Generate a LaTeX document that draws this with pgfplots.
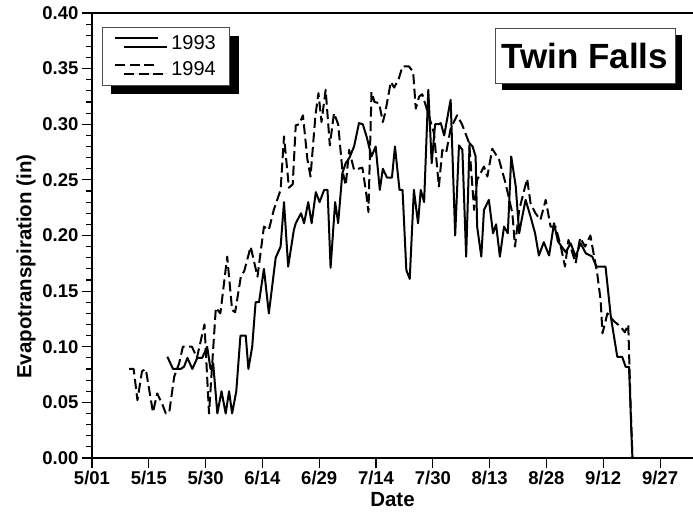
\documentclass[border=0pt]{standalone}
\usepackage{fontspec}
\setmainfont{Liberation Sans}
\usepackage{pgfplots}
\usepackage{pgfplotstable}
\pgfplotsset{compat=1.18}
\usetikzlibrary{shadows}

\pgfplotstableread{
d v
9.8 0.080
11.0 0.080
12.0 0.052
13.2 0.078
14.2 0.080
16.1 0.041
17.2 0.058
18.5 0.049
19.5 0.040
20.4 0.041
21.7 0.073
23.0 0.085
24.0 0.100
26.4 0.100
27.7 0.090
29.7 0.120
30.9 0.040
32.7 0.135
33.9 0.130
35.7 0.181
37.0 0.133
37.8 0.131
39.3 0.163
40.2 0.168
41.9 0.190
43.7 0.163
45.4 0.208
46.7 0.205
48.0 0.223
49.8 0.241
50.7 0.289
52.0 0.243
53.0 0.246
53.8 0.299
54.7 0.300
55.7 0.308
56.9 0.268
57.7 0.253
59.0 0.308
59.8 0.328
60.6 0.302
61.7 0.331
62.8 0.281
63.9 0.310
65.0 0.300
66.1 0.259
67.0 0.245
67.9 0.277
69.2 0.259
71.4 0.261
72.4 0.238
73.0 0.221
73.8 0.329
74.6 0.320
75.8 0.319
76.8 0.302
77.4 0.310
78.9 0.338
79.8 0.333
81.0 0.341
82.0 0.352
83.7 0.352
84.8 0.347
85.5 0.314
86.4 0.325
87.2 0.327
88.2 0.316
89.0 0.307
90.3 0.292
91.6 0.244
92.5 0.277
93.5 0.274
94.7 0.296
96.4 0.308
97.7 0.300
99.6 0.283
100.9 0.223
101.7 0.250
103.5 0.262
104.4 0.253
105.7 0.278
107.5 0.268
109.2 0.247
111.0 0.220
111.7 0.190
112.8 0.223
114.9 0.251
115.8 0.229
117.1 0.220
118.4 0.214
119.8 0.232
121.1 0.208
122.4 0.208
123.8 0.190
124.9 0.172
125.8 0.196
126.8 0.185
127.7 0.175
128.9 0.198
130.2 0.190
131.6 0.200
132.6 0.181
133.4 0.166
134.3 0.142
134.8 0.112
136.1 0.130
137.8 0.123
139.6 0.118
140.7 0.113
141.6 0.120
142.2 0.050
142.7 0.000
}\tblB

\pgfplotstableread{
d v
19.9 0.091
21.4 0.080
23.4 0.080
24.3 0.082
25.2 0.090
26.5 0.080
27.8 0.090
29.1 0.090
30.4 0.100
31.3 0.080
32.0 0.085
33.1 0.040
34.2 0.060
35.3 0.040
36.2 0.060
37.0 0.040
38.1 0.060
39.2 0.110
40.6 0.110
41.3 0.080
42.3 0.100
43.2 0.140
44.1 0.140
45.4 0.170
46.7 0.130
48.5 0.180
49.8 0.190
50.7 0.230
51.8 0.172
53.3 0.205
53.8 0.211
55.2 0.220
56.0 0.211
57.1 0.230
58.0 0.211
59.1 0.239
60.1 0.230
61.3 0.241
62.2 0.241
63.0 0.171
64.2 0.230
65.0 0.211
66.1 0.256
67.0 0.265
68.0 0.270
69.2 0.280
70.5 0.301
71.5 0.300
72.5 0.289
73.8 0.271
74.9 0.280
76.0 0.241
76.8 0.260
77.9 0.252
79.2 0.252
80.0 0.280
81.2 0.241
82.0 0.241
83.0 0.169
83.9 0.161
85.0 0.241
86.1 0.211
86.8 0.241
87.7 0.230
88.8 0.331
89.7 0.265
90.6 0.300
91.5 0.300
92.1 0.301
93.0 0.290
94.7 0.322
95.9 0.200
96.9 0.281
97.8 0.277
98.8 0.181
99.7 0.283
100.5 0.280
101.3 0.271
101.7 0.208
102.8 0.181
103.5 0.223
104.8 0.232
105.9 0.202
106.7 0.210
107.7 0.181
108.8 0.208
109.8 0.202
110.7 0.271
111.9 0.244
112.8 0.202
113.5 0.215
114.5 0.232
115.8 0.217
117.0 0.202
118.0 0.182
119.3 0.194
120.7 0.182
122.0 0.211
123.0 0.195
124.0 0.190
125.1 0.185
126.4 0.193
127.7 0.181
129.0 0.193
130.4 0.184
132.1 0.181
133.2 0.172
135.6 0.172
137.0 0.127
138.7 0.091
140.0 0.091
140.9 0.082
141.8 0.082
142.7 0.000
}\tblA

\begin{document}
\begin{tikzpicture}
\useasboundingbox (-92pt,-60pt) rectangle (601pt,458pt);
\begin{axis}[
  at={(0pt,0pt)}, anchor=south west,
  scale only axis, width=601pt, height=445pt,
  xmin=0, xmax=158.7, ymin=0, ymax=0.40,
  axis x line*=bottom, axis y line*=left,
  axis line style={line width=1.3pt},
  tick align=outside,
  major tick length=10pt, minor tick length=6pt,
  every tick/.style={black, line width=1.1pt},
  xtick={0,15,30,45,60,75,90,105,120,135,150},
  xticklabels={5/01,5/15,5/30,6/14,6/29,7/14,7/30,8/13,8/28,9/12,9/27},
  ytick={0,0.05,0.10,0.15,0.20,0.25,0.30,0.35,0.40},
  minor y tick num=4,
  /pgf/number format/assume math mode=true,
  y tick label style={/pgf/number format/.cd, fixed, fixed zerofill, precision=2},
  tick label style={font=\fontsize{18.5}{20}\selectfont\bfseries},
  xlabel={Date}, ylabel={Evapotranspiration (in)},
  label style={font=\fontsize{20.5}{22}\selectfont\bfseries},
  ylabel style={at={(ticklabel cs:0.43)}},
  legend style={at={(axis description cs:0.0166,0.9685)}, anchor=north west,
    draw=black!70, line width=0.6pt, fill=white,
    drop shadow={shadow xshift=9pt, shadow yshift=-9pt, fill=black, opacity=1},
    font=\fontsize{20}{22}\selectfont, legend cell align=left,
    inner xsep=12pt, inner ysep=6pt, row sep=7pt,
    /tikz/every odd column/.append style={column sep=10pt}},
  legend image code/.code={\draw[#1] (0pt,5pt) -- (43pt,5pt);},
]
\addplot[black, line width=2pt, line join=round] table[x=d,y=v] {\tblA};
\addlegendentry{1993}
\addplot[black, line width=2pt, line join=round, dash pattern=on 10pt off 4.5pt] table[x=d,y=v] {\tblB};
\addlegendentry{1994}
\draw[line width=1.3pt] (rel axis cs:0,1) -- (rel axis cs:1,1);
\node[draw=black!70, line width=0.6pt, fill=white,
  drop shadow={shadow xshift=7pt, shadow yshift=-7pt, fill=black, opacity=1},
  minimum width=180pt, minimum height=55pt,
  font=\fontsize{35}{40}\selectfont\bfseries]
  at (axis description cs:0.820,0.9045) {Twin Falls};
\end{axis}
\end{tikzpicture}
\end{document}
